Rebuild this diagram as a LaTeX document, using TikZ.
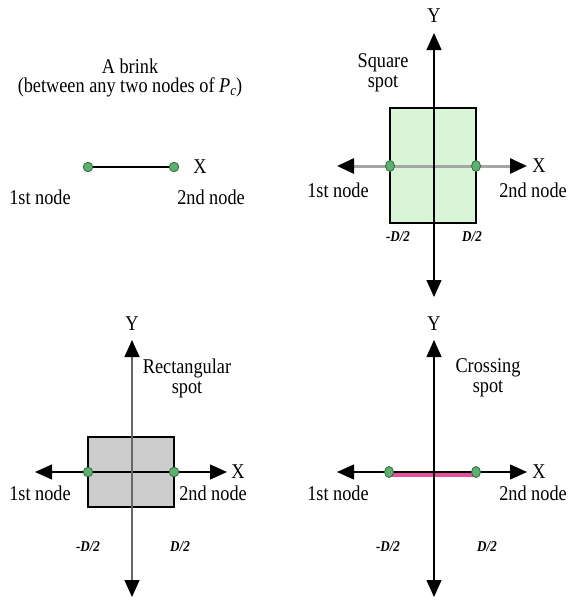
\documentclass[tikz,border=0pt]{standalone}
\usepackage{fontspec}
\setmainfont[FakeStretch=0.87]{Liberation Serif}
\usetikzlibrary{arrows.meta,shapes.geometric}
\definecolor{dotgreen}{HTML}{5DB070}
\definecolor{dotedge}{HTML}{2E6B3A}
\definecolor{spotgreen}{HTML}{D8F5D8}
\definecolor{spotgray}{HTML}{CCCCCC}
\definecolor{crosspink}{HTML}{E8509F}
\tikzset{
  lbl/.style={inner sep=0pt, font=\fontsize{21}{20}\selectfont},
  two/.style={lbl, align=center},
  dlbl/.style={inner sep=0pt, font=\fontsize{15}{15}\selectfont\bfseries\itshape},
  dot/.style={draw=dotedge, fill=dotgreen, ellipse, minimum width=9pt, minimum height=11pt, inner sep=0pt, line width=0.8pt},
  cdot/.style={draw=dotedge, fill=dotgreen, circle, minimum size=9.5pt, inner sep=0pt, line width=0.8pt},
  axisboth/.style={line width=1.2pt, {Triangle[length=17pt,width=15pt,color=black]}-{Triangle[length=17pt,width=15pt,color=black]}},
  spot/.style={draw=black, line width=1.2pt}
}
\begin{document}
\begin{tikzpicture}[x=1pt,y=-1pt]
\useasboundingbox (0,0) rectangle (568,600);
% ---------- Panel 1: a brink ----------
\node[two] (brink) at (130,78) {A brink\\[-1pt](between any two nodes of \textit{P}{\fontsize{15}{15}\selectfont\raisebox{-3pt}{\textit{c}}})};
\node[cdot] (b1) at (88,167) {};
\node[cdot] (b2) at (174,167) {};
\draw[line width=1.2pt] (b1) -- (b2);
\node[lbl] (bX) at (200,167) {X};
\node[lbl] (b1l) at (40,197) {1st node};
\node[lbl] (b2l) at (211,197) {2nd node};
% ---------- Panel 2: square spot ----------
\node[spot, fill=spotgreen, minimum width=86pt, minimum height=115pt, inner sep=0pt] (sq) at (433,165.5) {};
\coordinate (sxl) at (337,166);
\coordinate (sxr) at (527,166);
\coordinate (syt) at (434,33);
\coordinate (syb) at (434,297);
\draw[axisboth, draw=gray!70, line width=3pt] (sxl) -- (sxr);
\draw[axisboth] (syt) -- (syb);
\node[dot] (s1) at (390,166) {};
\node[dot] (s2) at (476,166) {};
\node[lbl] (sY) at (434,16) {Y};
\node[lbl] (sX) at (539,166) {X};
\node[two] (stitle) at (383,73) {Square\\spot};
\node[lbl] (s1l) at (338,190) {1st node};
\node[lbl] (s2l) at (533,190) {2nd node};
\node[dlbl] (sdm) at (398,237) {-D/2};
\node[dlbl] (sdp) at (472,237) {D/2};
% ---------- Panel 3: rectangular spot ----------
\node[spot, fill=spotgray, minimum width=86pt, minimum height=70pt, inner sep=0pt] (rc) at (131,472) {};
\coordinate (rxl) at (35,472);
\coordinate (rxr) at (227,472);
\coordinate (ryt) at (132,340);
\coordinate (ryb) at (132,597);
\draw[axisboth] (rxl) -- (rxr);
\draw[axisboth, draw=gray!80!black] (ryt) -- (ryb);
\node[cdot] (r1) at (88,472) {};
\node[cdot] (r2) at (174,472) {};
\node[lbl] (rY) at (132,324) {Y};
\node[lbl] (rX) at (238,472) {X};
\node[two] (rtitle) at (187,378) {Rectangular\\spot};
\node[lbl] (r1l) at (40,493) {1st node};
\node[lbl] (r2l) at (213,493) {2nd node};
\node[dlbl] (rdm) at (88,547) {-D/2};
\node[dlbl] (rdp) at (180,547) {D/2};
% ---------- Panel 4: crossing spot ----------
\coordinate (cxl) at (337,472);
\coordinate (cxr) at (527,472);
\coordinate (cyt) at (434,340);
\coordinate (cyb) at (434,597);
\coordinate (pk1) at (389,474);
\coordinate (pk2) at (476,474);
\draw[crosspink, line width=5pt] (pk1) -- (pk2);
\draw[axisboth] (cxl) -- (cxr);
\draw[axisboth] (cyt) -- (cyb);
\node[dot] (c1) at (389,472) {};
\node[dot] (c2) at (476,472) {};
\node[lbl] (cY) at (434,324) {Y};
\node[lbl] (cX) at (539,472) {X};
\node[two] (ctitle) at (488,378) {Crossing\\spot};
\node[lbl] (c1l) at (338,493) {1st node};
\node[lbl] (c2l) at (533,493) {2nd node};
\node[dlbl] (cdm) at (388,547) {-D/2};
\node[dlbl] (cdp) at (487,547) {D/2};
\end{tikzpicture}
\end{document}
